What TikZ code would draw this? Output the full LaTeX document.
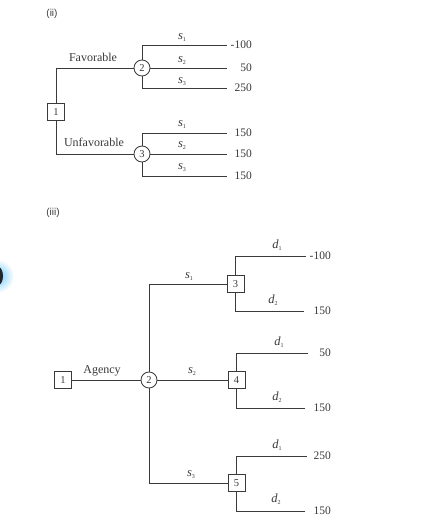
\documentclass[tikz,border=0pt]{standalone}
\usepackage{fontspec}
\setmainfont{Liberation Serif}
\setsansfont{Liberation Sans}
\definecolor{ln}{HTML}{3A3A3A}
\definecolor{glow}{HTML}{6CCBFF}
\newcommand\varlab[2]{\textit{#1}\raisebox{-0.35ex}{\fontsize{6}{6}\selectfont #2}}
\begin{document}
\begin{tikzpicture}[x=1pt,y=-1pt,
  conn/.style={draw=ln,line width=0.85pt},
  dbox/.style={rectangle,draw=ln,line width=0.85pt,minimum size=17pt,inner sep=0pt,font=\fontsize{10.5}{10.5}\selectfont,text=ln},
  cnode/.style={circle,draw=ln,line width=0.85pt,minimum size=16pt,inner sep=0pt,font=\fontsize{10.5}{10.5}\selectfont,text=ln},
  val/.style={font=\fontsize{11.5}{11.5}\selectfont,text=ln,inner sep=0pt,anchor=east},
  slab/.style={font=\fontsize{12.5}{12.5}\selectfont,text=ln,inner sep=0pt},
  blab/.style={font=\fontsize{12}{12}\selectfont,text=ln,inner sep=0pt},
  part/.style={font=\sffamily\fontsize{10}{10}\selectfont,text=ln,inner sep=0pt}]
\useasboundingbox[fill=white] (0,0) rectangle (446,524);
% glow artifact
\begin{scope}
\clip (0,0) rectangle (446,524);
\shade[inner color=glow,outer color=white] (-3,276) circle (17);
\fill[black!85] (-3,276) ellipse (6 and 10);
\end{scope}
% ---------- (ii)
\node[part] (t2) at (52,14) {(ii)};
\node[dbox] (a1) at (56,112) {1};
\node[cnode] (a2) at (142,68) {2};
\node[cnode] (a3) at (142,154) {3};
\coordinate (e21) at (227,45);
\coordinate (e22) at (227,68);
\coordinate (e23) at (227,88);
\coordinate (e31) at (227,133);
\coordinate (e32) at (227,154);
\coordinate (e33) at (227,176);
\draw[conn] (a1.north) |- (a2.west);
\draw[conn] (a1.south) |- (a3.west);
\draw[conn] (a2.north) |- (e21);
\draw[conn] (a2.east) -- (e22);
\draw[conn] (a2.south) |- (e23);
\draw[conn] (a3.north) |- (e31);
\draw[conn] (a3.east) -- (e32);
\draw[conn] (a3.south) |- (e33);
\node[blab] (fav) at (93,57) {Favorable};
\node[blab] (unf) at (94,142) {Unfavorable};
\node[slab] (s21) at (182,38) {\varlab{s}{1}};
\node[slab] (s22) at (182,61) {\varlab{s}{2}};
\node[slab] (s23) at (182,82) {\varlab{s}{3}};
\node[slab] (s31) at (182,125) {\varlab{s}{1}};
\node[slab] (s32) at (182,146) {\varlab{s}{2}};
\node[slab] (s33) at (182,168) {\varlab{s}{3}};
\node[val] (v21) at (252,45) {-100};
\node[val] (v22) at (252,68) {50};
\node[val] (v23) at (252,88) {250};
\node[val] (v31) at (252,133) {150};
\node[val] (v32) at (252,154) {150};
\node[val] (v33) at (252,176) {150};
% ---------- (iii)
\node[part] (t3) at (53,213) {(iii)};
\node[dbox] (b1) at (63,380) {1};
\node[cnode] (b2) at (149,380) {2};
\node[dbox] (b3) at (235.5,284) {3};
\node[dbox] (b4) at (236.5,380) {4};
\node[dbox] (b5) at (236.5,483) {5};
\draw[conn] (b1) -- (b2);
\draw[conn] (b2.north) |- (b3.west);
\draw[conn] (b2) -- (b4);
\draw[conn] (b2.south) |- (b5.west);
\node[blab] (ag) at (102,371) {Agency};
\node[slab] (r1) at (189,277) {\varlab{s}{1}};
\node[slab] (r2) at (192,372) {\varlab{s}{2}};
\node[slab] (r3) at (191,475) {\varlab{s}{3}};
\coordinate (f31) at (306,256);
\coordinate (f32) at (304,311);
\coordinate (f41) at (308,353);
\coordinate (f42) at (305,408);
\coordinate (f51) at (307,456);
\coordinate (f52) at (305,511);
\draw[conn] (b3.north) |- (f31);
\draw[conn] (b3.south) |- (f32);
\draw[conn] (b4.north) |- (f41);
\draw[conn] (b4.south) |- (f42);
\draw[conn] (b5.north) |- (f51);
\draw[conn] (b5.south) |- (f52);
\node[slab] (d31) at (277,245) {\varlab{d}{1}};
\node[slab] (d32) at (273,300) {\varlab{d}{2}};
\node[slab] (d41) at (279,342) {\varlab{d}{1}};
\node[slab] (d42) at (277,397) {\varlab{d}{2}};
\node[slab] (d51) at (277,445) {\varlab{d}{1}};
\node[slab] (d52) at (276,499) {\varlab{d}{2}};
\node[val] (w31) at (331,256) {-100};
\node[val] (w32) at (331,311) {150};
\node[val] (w41) at (331,353) {50};
\node[val] (w42) at (331,408) {150};
\node[val] (w51) at (331,456) {250};
\node[val] (w52) at (331,511) {150};
\end{tikzpicture}
\end{document}
